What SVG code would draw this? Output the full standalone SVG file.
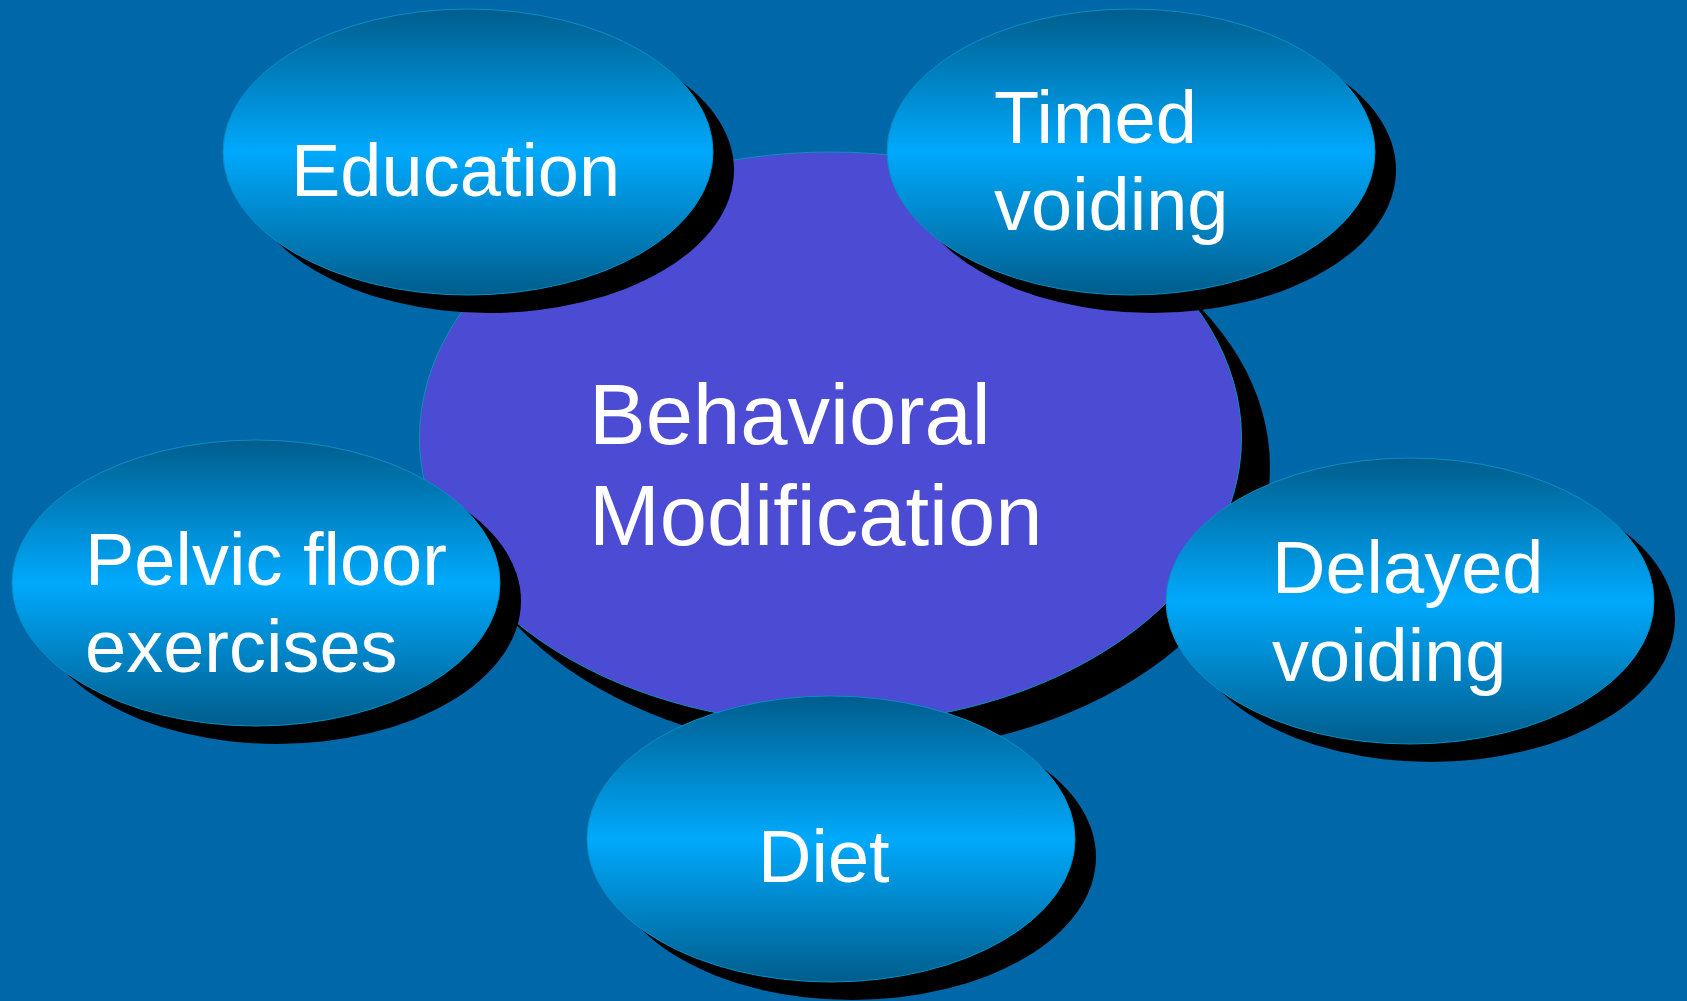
<svg xmlns="http://www.w3.org/2000/svg" width="1687" height="1001" viewBox="0 0 1687 1001">
  <defs>
    <linearGradient id="blueGrad" x1="0" y1="0" x2="0" y2="1">
      <stop offset="0" stop-color="#005D8C"/>
      <stop offset="0.5" stop-color="#00A9FC"/>
      <stop offset="1" stop-color="#005D8C"/>
    </linearGradient>
  </defs>
  <style>
    .shadow { fill: #000000; }
    .bubble { fill: url(#blueGrad); stroke: #0090C8; stroke-width: 1; }
    .core { fill: #4B4BD3; stroke: #1090B8; stroke-width: 1; }
    .lbl { fill: #FFFFFF; font-family: "Liberation Sans", Arial, sans-serif; font-size: 74px; }
    .core-lbl { fill: #FFFFFF; font-family: "Liberation Sans", Arial, sans-serif; font-size: 85px; }
  </style>
  <rect x="0" y="0" width="1687" height="1001" fill="#0067A8"/>

  <g id="connectors"></g>

  <g id="node-behavioral">
    <ellipse class="shadow" cx="859" cy="467" rx="411" ry="286"/>
    <ellipse class="core" cx="830.5" cy="438" rx="411" ry="286"/>
    <text class="core-lbl" x="589" y="444">Behavioral</text>
    <text class="core-lbl" x="589" y="545">Modification</text>
  </g>

  <g id="node-education">
    <ellipse class="shadow" cx="489" cy="170" rx="245" ry="143"/>
    <ellipse class="bubble" cx="468" cy="152" rx="245" ry="143"/>
    <text class="lbl" x="291" y="196">Education</text>
  </g>

  <g id="node-timed">
    <ellipse class="shadow" cx="1152" cy="170" rx="244" ry="143"/>
    <ellipse class="bubble" cx="1131" cy="152" rx="244" ry="143"/>
    <text class="lbl" x="994" y="143">Timed</text>
    <text class="lbl" x="994" y="230">voiding</text>
  </g>

  <g id="node-pelvic">
    <ellipse class="shadow" cx="277" cy="601" rx="244" ry="143"/>
    <ellipse class="bubble" cx="256" cy="583" rx="244" ry="143"/>
    <text class="lbl" x="85" y="585">Pelvic floor</text>
    <text class="lbl" x="85" y="672">exercises</text>
  </g>

  <g id="node-delayed">
    <ellipse class="shadow" cx="1431" cy="619" rx="244" ry="143"/>
    <ellipse class="bubble" cx="1410" cy="601" rx="244" ry="143"/>
    <text class="lbl" x="1272" y="593">Delayed</text>
    <text class="lbl" x="1272" y="681">voiding</text>
  </g>

  <g id="node-diet">
    <ellipse class="shadow" cx="852" cy="857" rx="244" ry="143"/>
    <ellipse class="bubble" cx="831" cy="839" rx="244" ry="143"/>
    <text class="lbl" x="758" y="882">Diet</text>
  </g>
</svg>
